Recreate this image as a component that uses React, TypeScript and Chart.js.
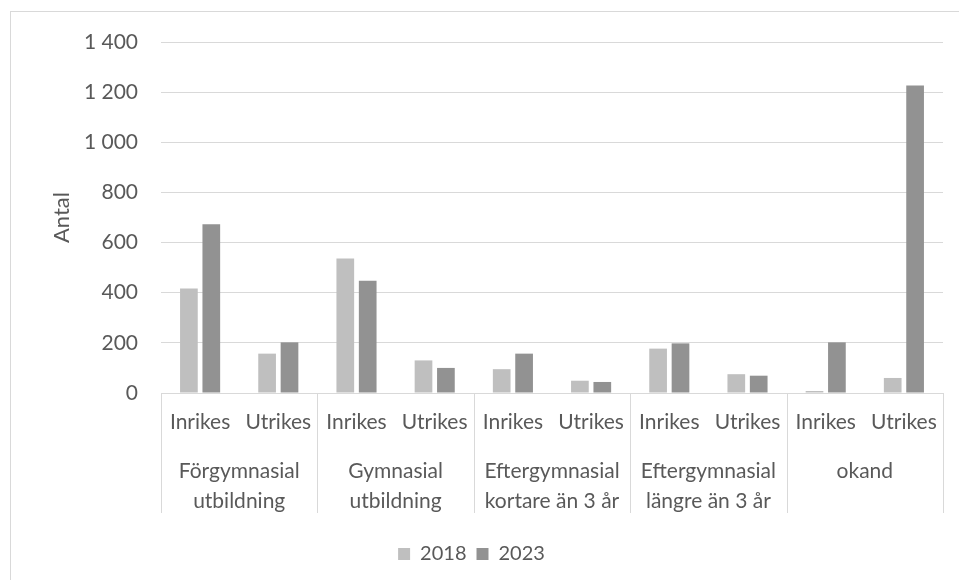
import React, { useEffect, useRef } from "react";
import { Chart, registerables } from "chart.js";

Chart.register(...registerables);

const subCategories = ["Inrikes", "Utrikes", "Inrikes", "Utrikes", "Inrikes", "Utrikes", "Inrikes", "Utrikes", "Inrikes", "Utrikes"];
const groupLabels: string[][] = [
  ["Förgymnasial", "utbildning"],
  ["Gymnasial", "utbildning"],
  ["Eftergymnasial", "kortare än 3 år"],
  ["Eftergymnasial", "längre än 3 år"],
  ["okand"],
];
const values2018 = [417, 157, 536, 130, 95, 49, 177, 75, 8, 60];
const values2023 = [673, 202, 448, 100, 157, 44, 198, 69, 202, 1226];
const seriesNames = ["2018", "2023"];
const yTicks = [0, 200, 400, 600, 800, 1000, 1200, 1400];

const FONT = "Lato, 'Open Sans', sans-serif";
const TEXT = "#595959";
const GRID = "#d9d9d9";

function fmt(v: number): string {
  if (v >= 1000) {
    return Math.floor(v / 1000) + " " + String(v % 1000).padStart(3, "0");
  }
  return String(v);
}

const separatorPlugin = {
  id: "groupSeparators",
  afterDraw(chart: any) {
    const { ctx, chartArea } = chart;
    const xs = chart.scales.x;
    const positions: number[] = [chartArea.left];
    for (let i = 2; i < subCategories.length; i += 2) {
      positions.push((xs.getPixelForValue(i - 1) + xs.getPixelForValue(i)) / 2);
    }
    positions.push(chartArea.right);
    ctx.save();
    ctx.strokeStyle = GRID;
    ctx.lineWidth = 1;
    const bottom = chartArea.bottom + 120;
    positions.forEach((p) => {
      const xp = Math.round(p) + 0.5;
      ctx.beginPath();
      ctx.moveTo(xp, chartArea.bottom);
      ctx.lineTo(xp, bottom);
      ctx.stroke();
    });
    ctx.restore();
  },
};

export default function App() {
  const ref = useRef<HTMLCanvasElement | null>(null);
  useEffect(() => {
    document.body.style.margin = "0";
    const canvas = ref.current;
    if (!canvas) return;
    const chart = new Chart(canvas, {
      type: "bar",
      data: {
        labels: subCategories,
        datasets: [
          {
            label: seriesNames[0],
            data: values2018,
            backgroundColor: "#bfbfbf",
            barPercentage: 0.79,
            categoryPercentage: 0.573,
          },
          {
            label: seriesNames[1],
            data: values2023,
            backgroundColor: "#929292",
            barPercentage: 0.79,
            categoryPercentage: 0.573,
          },
        ],
      },
      options: {
        animation: false,
        responsive: false,
        maintainAspectRatio: false,
        layout: { padding: { left: 0, right: 16, top: 42, bottom: 6 } },
        plugins: {
          legend: {
            position: "bottom",
            labels: {
              boxWidth: 12,
              boxHeight: 12,
              padding: 10,
              color: TEXT,
              font: { family: FONT, size: 20 },
            },
          },
          tooltip: { enabled: false },
        },
        scales: {
          x: {
            type: "category",
            position: "bottom",
            weight: 0,
            grid: { display: false, drawTicks: false },
            border: { display: true, color: GRID },
            ticks: {
              color: TEXT,
              font: { family: FONT, size: 21 },
              padding: 17,
              maxRotation: 0,
              autoSkip: false,
            },
            afterFit: (s: any) => {
              s.height = 50;
            },
          },
          x2: {
            type: "category",
            position: "bottom",
            weight: 1,
            labels: groupLabels as any,
            offset: true,
            grid: { display: false, drawTicks: false },
            border: { display: false },
            ticks: {
              color: TEXT,
              font: { family: FONT, size: 21, lineHeight: 1.43 },
              padding: 13,
              maxRotation: 0,
              autoSkip: false,
            },
            afterFit: (s: any) => {
              s.height = 91;
            },
          },
          y: {
            min: 0,
            max: 1400,
            afterBuildTicks: (s: any) => {
              s.ticks = yTicks.map((v) => ({ value: v }));
            },
            grid: { color: GRID, lineWidth: 1, drawTicks: false },
            border: { display: false },
            ticks: {
              color: TEXT,
              font: { family: FONT, size: 21 },
              padding: 23,
              callback: (v: any) => fmt(Number(v)),
            },
            title: {
              display: true,
              text: "Antal",
              color: TEXT,
              font: { family: FONT, size: 22 },
              padding: { top: 49, bottom: 0 },
            },
            afterFit: (s: any) => {
              s.width = 161;
            },
          },
        },
      },
      plugins: [separatorPlugin],
    } as any);
    return () => chart.destroy();
  }, []);

  return (
    <div style={{ position: "relative", width: 959, height: 580, overflow: "hidden", background: "#fff" }}>
      <div
        style={{
          position: "absolute",
          left: 10,
          top: 11,
          width: 1000,
          height: 1000,
          border: "1px solid #d9d9d9",
        }}
      />
      <canvas ref={ref} width={959} height={580} style={{ position: "absolute", left: 0, top: 0 }} />
    </div>
  );
}
